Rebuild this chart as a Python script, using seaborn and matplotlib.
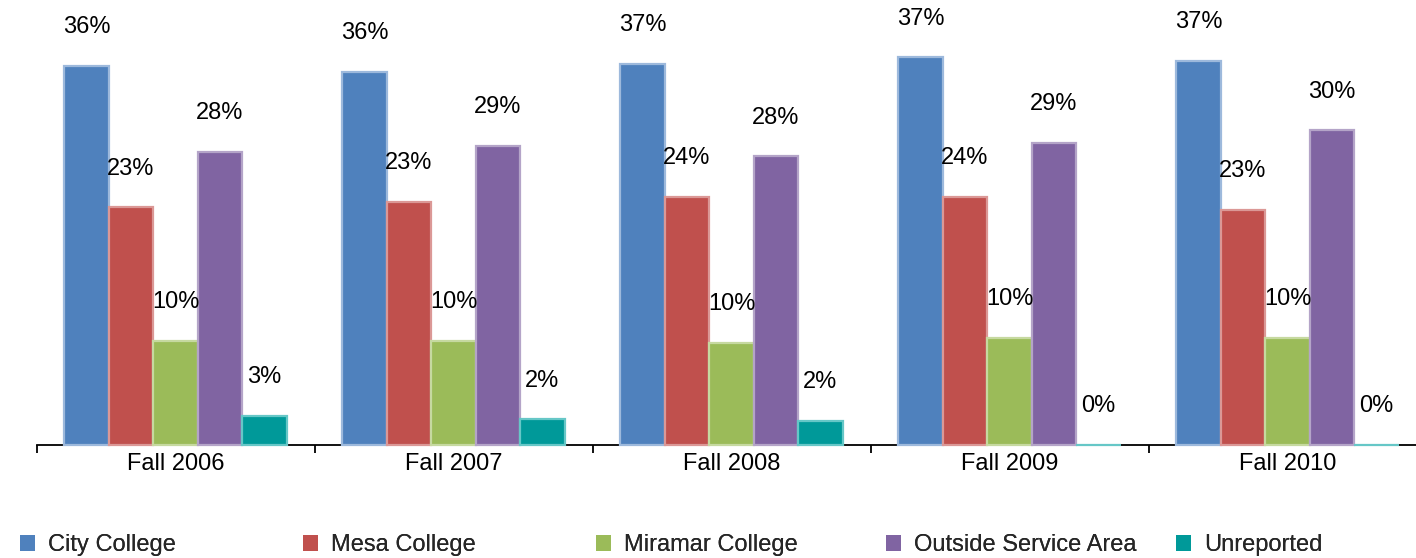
import numpy as np
import pandas as pd
import matplotlib
matplotlib.use("Agg")
import matplotlib.pyplot as plt
from matplotlib.patches import Patch
from matplotlib.ticker import FixedLocator
import seaborn as sns

# ---- data ----
terms = ["Fall 2006", "Fall 2007", "Fall 2008", "Fall 2009", "Fall 2010"]
campuses = ["City College", "Mesa College", "Miramar College",
            "Outside Service Area", "Unreported"]
city = [36.4, 35.8, 36.6, 37.2, 36.9]
mesa = [22.8, 23.3, 23.8, 23.8, 22.6]
miramar = [10.0, 10.0, 9.8, 10.3, 10.3]
outside = [28.1, 28.7, 27.7, 29.0, 30.2]
unreported = [2.8, 2.45, 2.3, 0.0, 0.0]

fill_colors = ["#4F81BD", "#C0504D", "#9BBB59", "#8064A2", "#009999"]
edge_colors = ["#9DB9DC", "#DB9896", "#C6D9A0", "#B4A4C8", "#66C7C7"]

series = [city, mesa, miramar, outside, unreported]
rows = []
for c, vals in zip(campuses, series):
    for t, v in zip(terms, vals):
        rows.append({"term": t, "campus": c, "pct": v})
df = pd.DataFrame(rows)

sns.set_style("white")
plt.rcParams["font.family"] = ["Liberation Sans", "DejaVu Sans"]
FS = 17

fig = plt.figure(figsize=(14.16, 5.58), dpi=100)
W, H = 1416, 558
ymax = 42.0
px_per_pct = 10.42
ax_left, ax_right = 36.5, 36.5 + 5 * 278
ax_bottom = 445
ax_h = ymax * px_per_pct
ax = fig.add_axes([ax_left / W, (H - ax_bottom) / H,
                   (ax_right - ax_left) / W, ax_h / H])

sns.barplot(data=df, x="term", y="pct", hue="campus", order=terms,
            hue_order=campuses, palette=fill_colors, saturation=1,
            width=0.8, ax=ax, legend=False, errorbar=None)

for cont, ec in zip(ax.containers, edge_colors):
    for bar in cont:
        bar.set_edgecolor(ec)
        bar.set_linewidth(1.6)
        bar.set_zorder(3)
        bar.set_clip_on(False)
        h = bar.get_height()
        ax.annotate(f"{round(h):.0f}%",
                    (bar.get_x() + bar.get_width() / 2, h),
                    xytext=(0, 23.6), textcoords="offset points",
                    ha="center", va="baseline", fontsize=FS, color="black")

ax.set_xlim(-0.5, 4.5)
ax.set_ylim(0, ymax)
ax.set_xlabel("")
ax.set_ylabel("")
ax.set_yticks([])
for s in ["left", "top", "right"]:
    ax.spines[s].set_visible(False)
ax.spines["bottom"].set_color("black")
ax.spines["bottom"].set_linewidth(1.3)
ax.xaxis.set_minor_locator(FixedLocator(np.arange(-0.5, 5.0, 1.0)))
ax.tick_params(axis="x", which="major", length=0, pad=5.5, labelsize=FS,
               labelcolor="black")
ax.tick_params(axis="x", which="minor", length=5.5, width=1.3,
               color="black", direction="out", bottom=True)

# legend: evenly spaced entries along the bottom
marker_x = [20, 303, 596, 886, 1176]
for i, (lab, fc) in enumerate(zip(campuses, fill_colors)):
    leg = fig.legend(handles=[Patch(facecolor=fc, edgecolor="none", label=lab)],
                     loc="center left",
                     bbox_to_anchor=(marker_x[i] / W, (H - 545) / H),
                     frameon=False, fontsize=FS, handlelength=0.65,
                     handleheight=0.65, handletextpad=0.55,
                     borderaxespad=0, borderpad=0)
    fig.add_artist(leg)

fig.savefig("out.png", dpi=100)
